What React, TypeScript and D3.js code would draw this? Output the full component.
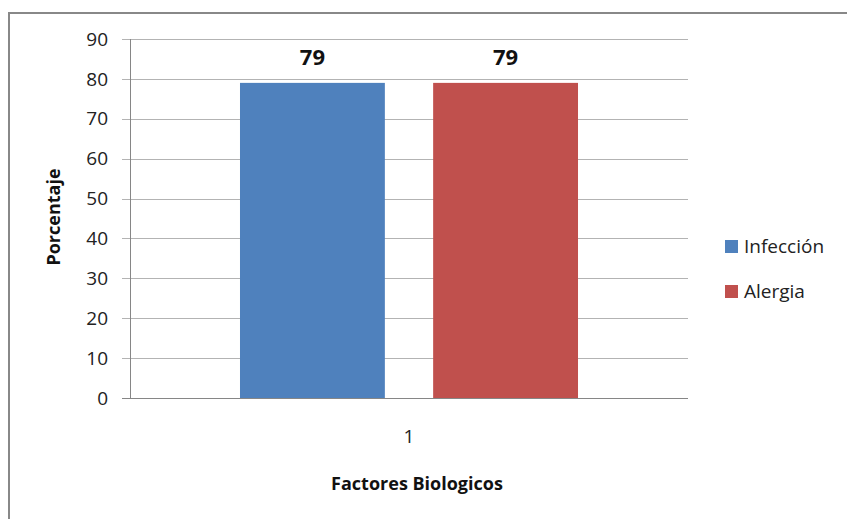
import React from "react";
import * as d3 from "d3";

const categories = ["1"];
const seriesNames = ["Infección", "Alergia"];
const seriesColors = ["#4F81BD", "#C0504D"];
const infeccion = [79];
const alergia = [79];
const yTicks = [0, 10, 20, 30, 40, 50, 60, 70, 80, 90];
const yTitle = "Porcentaje";
const xTitle = "Factores Biologicos";

const W = 847;
const H = 519;
const FONT = "'Open Sans', 'DejaVu Sans', sans-serif";

export default function App() {
  const plot = { left: 130, right: 688, top: 39, bottom: 398 };
  const seriesValues = [infeccion, alergia];

  const y = d3.scaleLinear().domain([0, 90]).range([plot.bottom, plot.top]);
  const x0 = d3
    .scaleBand<string>()
    .domain(categories)
    .range([plot.left, plot.right])
    .paddingInner(0.2455)
    .paddingOuter(0.2455);
  const x1 = d3
    .scaleBand<string>()
    .domain(seriesNames)
    .range([0, x0.bandwidth()])
    .paddingInner(0.25)
    .paddingOuter(0);

  return (
    <svg
      width={W}
      height={H}
      style={{ position: "absolute", left: 0, top: 0, background: "#fff" }}
      fontFamily={FONT}
    >
      <rect x={0} y={0} width={W} height={H} fill="#fff" />
      {/* chart border */}
      <rect x={9} y={13} width={W + 20} height={H + 20} fill="none" stroke="#888" strokeWidth={2} />

      {/* gridlines and ticks */}
      {yTicks.map((t) => (
        <g key={t}>
          <line
            x1={plot.left - 8}
            x2={plot.right}
            y1={Math.round(y(t)) + 0.5}
            y2={Math.round(y(t)) + 0.5}
            stroke={t === 0 ? "#868686" : "#B3B3B3"}
            strokeWidth={1}
          />
          <text
            x={108}
            y={y(t)}
            dy="0.35em"
            textAnchor="end"
            fontSize={19}
            fill="#222"
          >
            {t}
          </text>
        </g>
      ))}
      {/* y axis line */}
      <line x1={plot.left + 0.5} x2={plot.left + 0.5} y1={plot.top} y2={plot.bottom} stroke="#868686" />

      {/* bars */}
      {categories.map((c, ci) => (
        <g key={c} transform={`translate(${x0(c)},0)`}>
          {seriesNames.map((s, si) => {
            const v = seriesValues[si][ci];
            const bx = x1(s)!;
            return (
              <g key={s}>
                <rect
                  x={bx}
                  y={y(v)}
                  width={x1.bandwidth()}
                  height={plot.bottom - y(v)}
                  fill={seriesColors[si]}
                />
                <text
                  x={bx + x1.bandwidth() / 2}
                  y={y(v) - 18}
                  textAnchor="middle"
                  fontSize={22}
                  fontWeight="bold"
                  fill="#111"
                >
                  {v}
                </text>
              </g>
            );
          })}
          <text
            x={x0.bandwidth() / 2}
            y={443}
            textAnchor="middle"
            fontSize={19}
            fill="#222"
          >
            {c}
          </text>
        </g>
      ))}

      {/* axis titles */}
      <text
        transform={`translate(60,217) rotate(-90)`}
        textAnchor="middle"
        fontSize={18}
        fontWeight="bold"
        fill="#111"
      >
        {yTitle}
      </text>
      <text x={417} y={490} textAnchor="middle" fontSize={18} fontWeight="bold" fill="#111">
        {xTitle}
      </text>

      {/* legend */}
      {seriesNames.map((s, i) => (
        <g key={s} transform={`translate(725,${240 + i * 45})`}>
          <rect x={0} y={0} width={13} height={13} fill={seriesColors[i]} />
          <text x={19} y={13} fontSize={19} fill="#222">
            {s}
          </text>
        </g>
      ))}
    </svg>
  );
}
